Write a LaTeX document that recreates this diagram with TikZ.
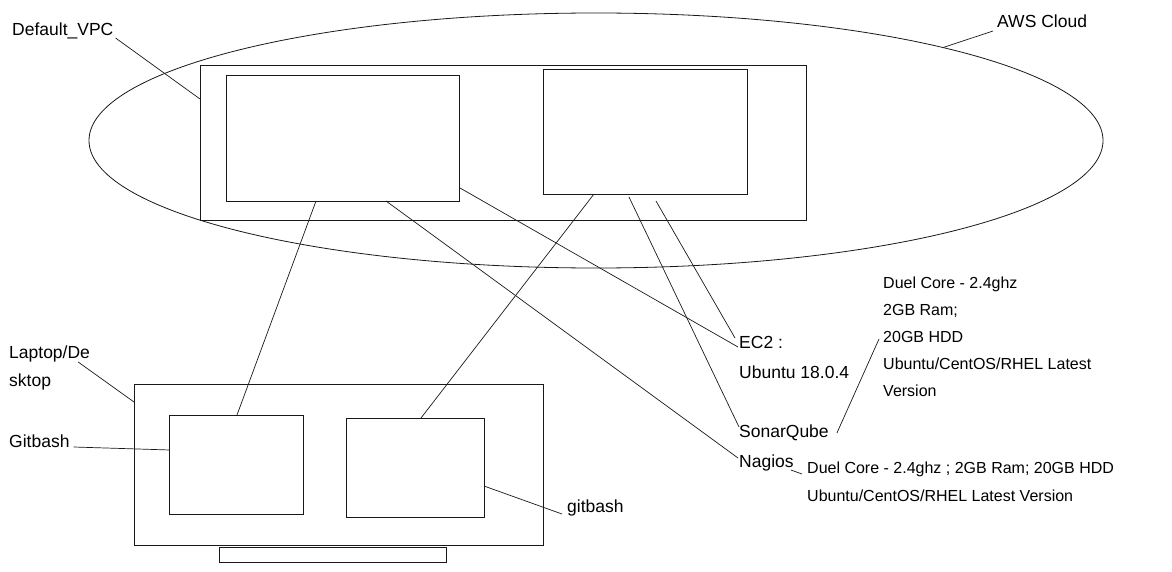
\documentclass[tikz,border=0pt]{standalone}
\usepackage{fontspec}
\setmainfont{Liberation Sans}
\usetikzlibrary{calc,shapes.geometric}
\definecolor{LineClr}{rgb}{0.1,0.1,0.1}

\begin{document}
\begin{tikzpicture}[x=1pt,y=-1pt,
  box/.style={draw=LineClr,line width=0.8pt,inner sep=0pt,outer sep=0pt,anchor=north west},
  lbl/.style={font=\fontsize{17.5}{21}\selectfont,inner sep=0pt,anchor=base west},
  spec/.style={font=\fontsize{16}{19}\selectfont,inner sep=0pt,anchor=base west},
  wire/.style={draw=LineClr,line width=0.7pt}]
\useasboundingbox (0,0) rectangle (1172,572);

\node[ellipse,draw=LineClr,line width=0.8pt,inner sep=0pt,minimum width=1014pt,minimum height=255pt] (cloud) at (596,140.5) {};
\node[box,minimum width=606pt,minimum height=155pt] (vpc) at (200,65) {};
\node[box,minimum width=233pt,minimum height=126pt] (vm) at (226,75) {};
\node[box,minimum width=204pt,minimum height=125pt] (ci) at (543,69) {};

\node[box,minimum width=409pt,minimum height=161pt] (laptop) at (134,384) {};
\node[box,minimum width=134pt,minimum height=99pt] (gb1) at (169,415) {};
\node[box,minimum width=138pt,minimum height=99pt] (gb2) at (346,418) {};
\node[box,minimum width=227pt,minimum height=15pt] (stand) at (219,547) {};

\node[lbl] (vpclbl) at (12,36) {Default\_VPC};
\node[lbl] (awslbl) at (997,28) {AWS Cloud};
\node[lbl] (laplbl) at (9,358) {Laptop/De};
\node[lbl] (laplblb) at (9,386) {sktop};
\node[lbl] (gitlbl) at (9,447) {Gitbash};
\node[lbl] (gitlblb) at (567,512) {gitbash};
\node[lbl] (ec2) at (739,348) {EC2 :};
\node[lbl] (ubuntu) at (739,378) {Ubuntu 18.0.4};
\node[lbl] (sonar) at (739,437) {SonarQube};
\node[lbl] (nagios) at (739,467) {Nagios};

\foreach \txt [count=\i] in {Duel Core - 2.4ghz, 2GB Ram;, 20GB HDD, Ubuntu/CentOS/RHEL Latest, Version}
  \node[spec] (spec-\i) at (883,{261+27*\i}) {\txt};
\node[spec] (specb-1) at (807,473) {Duel Core - 2.4ghz ; 2GB Ram; 20GB HDD};
\node[spec] (specb-2) at (807,501) {Ubuntu/CentOS/RHEL Latest Version};

\draw[wire] ($(vpclbl.base east)+(2,2)$) -- ($(vpc.north west)+(0,34)$);
\draw[wire] ($(awslbl.base west)+(-4,3)$) -- (cloud.15);
\draw[wire] ($(laplbl.base east)+(-12,4)$) -- ($(laptop.north west)+(0,18)$);
\draw[wire] ($(gitlbl.base east)+(4,0)$) -- ($(gb1.north west)+(1,35)$);
\draw[wire] ($(gb2.north east)+(0,68)$) -- ($(gitlblb.base west)+(-5,2)$);

\draw[wire] ($(vm.south west)+(90,0)$) -- ($(gb1.north west)+(68,0)$);
\draw[wire] ($(ci.south west)+(51,0)$) -- ($(gb2.north west)+(75,0)$);
\draw[wire] ($(vm.south east)+(1,-13)$) -- ($(ec2.base west)+(-1,-1)$);
\draw[wire] ($(ci.south west)+(113,7)$) -- ($(ec2.base west)+(-4,-10)$);
\draw[wire] ($(ci.south west)+(86,3)$) -- ($(sonar.base west)+(0,-10)$);
\draw[wire] ($(vm.south west)+(160,0)$) -- ($(nagios.base west)+(-1,-9)$);
\draw[wire] ($(sonar.base east)+(8,-4)$) -- ($(spec-3.base west)+(-4,-3)$);
\draw[wire] ($(nagios.base east)+(-3,3)$) -- ($(specb-1.base west)+(-5,1)$);

\end{tikzpicture}
\end{document}
